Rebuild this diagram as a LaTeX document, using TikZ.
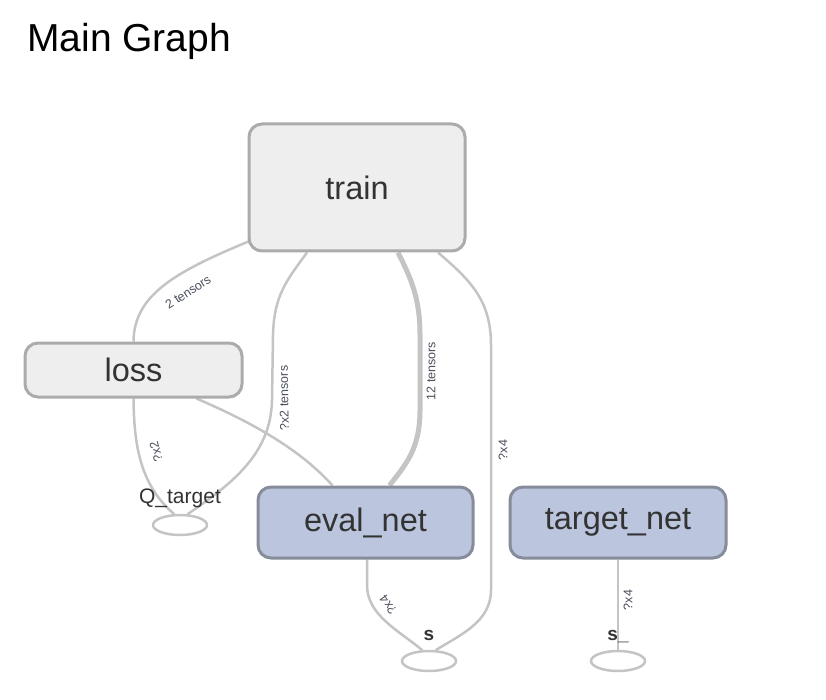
\documentclass[tikz,border=0pt]{standalone}
\usepackage{fontspec}
\setmainfont{Liberation Sans}
\usetikzlibrary{shapes.geometric,calc,backgrounds}
\definecolor{boxfill}{HTML}{EEEEEE}
\definecolor{boxdraw}{HTML}{ABABAB}
\definecolor{bluefill}{HTML}{BBC5DD}
\definecolor{bluedraw}{HTML}{868C9A}
\definecolor{edgec}{HTML}{C4C4C4}
\definecolor{txt}{HTML}{333333}
\definecolor{lbl}{HTML}{4A4F5A}
\begin{document}
\begin{tikzpicture}[x=1pt,y=-1pt,
  opbox/.style={draw=boxdraw,fill=boxfill,line width=3pt,rounded corners=13pt,text=txt,font=\fontsize{32.5}{36}\selectfont,inner sep=0pt},
  netbox/.style={opbox,draw=bluedraw,fill=bluefill},
  tensor/.style={ellipse,draw=edgec,line width=2.5pt,minimum width=54pt,minimum height=20pt,inner sep=0pt},
  lname/.style={text=txt,font=\fontsize{21}{24}\selectfont,inner sep=0pt},
  edge/.style={draw=edgec,line width=2.5pt},
  elabel/.style={text=lbl,font=\fontsize{12.5}{14}\selectfont,inner sep=0pt}]
\useasboundingbox (0,0) rectangle (826,700);
\node[anchor=base west,inner sep=0pt,font=\fontsize{39}{44}\selectfont] (title) at (27,52) {Main Graph};

\node[opbox,minimum width=216pt,minimum height=127pt] (train) at (357,187.5) {train};
\node[opbox,minimum width=217pt,minimum height=54pt] (loss) at (133.5,370) {loss};
\node[netbox,minimum width=215pt,minimum height=71pt] (eval) at (365.5,522.5) {eval\_net};
\node[netbox,minimum width=216pt,minimum height=71pt] (target) at (618,522.5) {target\_net};

\node[tensor] (qt) at (180,525) {};
\node[lname,anchor=base] (qtl) at (180,503) {Q\_target};
\node[tensor] (s) at (429,661) {};
\node[lname,anchor=base,font=\bfseries\fontsize{19}{22}\selectfont] (sl) at (429,640) {s};
\node[tensor] (s2) at (618,661) {};
\node[lname,anchor=base,font=\bfseries\fontsize{19}{22}\selectfont] (s2l) at (618,640) {s\_};

\begin{scope}[on background layer]
\draw[edge] ($(train.south west)+(1,-11)$) .. controls (175,272) and (134,295) .. (loss.north);
\draw[edge] ($(train.south)+(-50,0)$) .. controls (287,280) and (274,295) .. (273,335) -- (272,400) .. controls (271,455) and (230,485) .. (qt.55);
\draw[draw=edgec,line width=5pt] ($(train.south)+(41,0)$) .. controls (412,280) and (420,300) .. (420,335) -- (420,410) .. controls (420,450) and (405,465) .. ($(eval.north)+(24,0)$);
\draw[edge] ($(train.south)+(81,0)$) .. controls (470,280) and (491,300) .. (491,345) -- (491,590) .. controls (491,622) and (460,635) .. (s.58);
\draw[edge] ($(loss.south)+(63,0)$) .. controls (265,428) and (305,455) .. ($(eval.north)+(-33,0)$);
\draw[edge] (loss.south) .. controls (134,445) and (140,485) .. (qt.118);
\draw[edge] ($(eval.south)+(1.5,0)$) -- (367,585) .. controls (367,615) and (398,630) .. (s.122);
\draw[edge] (target.south) -- (s2.north);
\end{scope}

\node[elabel,rotate=33] (l1) at (188,292) {2 tensors};
\node[elabel,rotate=91] (l2) at (284,398) {?x2 tensors};
\node[elabel,rotate=90] (l3) at (431,371) {12 tensors};
\node[elabel,rotate=90] (l4) at (503,450) {?x4};
\node[elabel,rotate=105] (l5) at (156,452) {?x2};
\node[elabel,rotate=125] (l6) at (388,605) {?x4};
\node[elabel,rotate=90] (l7) at (628,600) {?x4};
\end{tikzpicture}
\end{document}
